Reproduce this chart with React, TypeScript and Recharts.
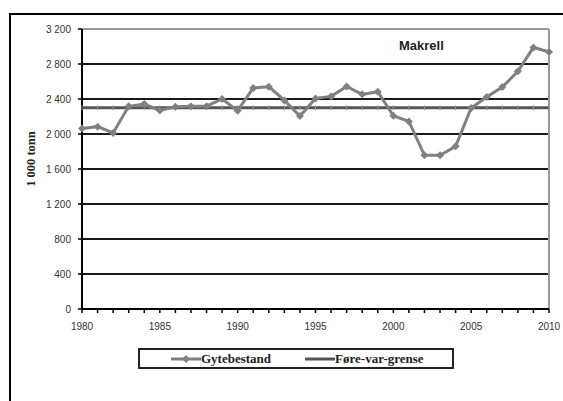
import { LineChart, Line, XAxis, YAxis, CartesianGrid, ReferenceLine, Label } from "recharts";

const years = [
  1980, 1981, 1982, 1983, 1984, 1985, 1986, 1987, 1988, 1989,
  1990, 1991, 1992, 1993, 1994, 1995, 1996, 1997, 1998, 1999,
  2000, 2001, 2002, 2003, 2004, 2005, 2006, 2007, 2008, 2009, 2010,
];
// spawning stock, 1 000 tonnes
const gytebestand = [
  2064, 2084, 2012, 2316, 2343, 2270, 2312, 2316, 2318, 2400,
  2267, 2526, 2541, 2384, 2206, 2407, 2430, 2544, 2453, 2484,
  2209, 2144, 1756, 1756, 1859, 2297, 2423, 2537, 2716, 2990, 2937,
];
const foreVarGrense = 2300;
const yTicks = [0, 400, 800, 1200, 1600, 2000, 2400, 2800, 3200];
const gridValues = [400, 800, 1200, 1600, 2000, 2400, 2800];

const data = years.map((year, i) => ({
  year,
  gytebestand: gytebestand[i],
  grense: foreVarGrense,
}));

const SANS = "'Liberation Sans', Arial, sans-serif";
const SERIF = "'Liberation Serif', 'Times New Roman', serif";

const fmt = (v: number) =>
  v >= 1000 ? `${Math.floor(v / 1000)}\u00a0${String(v % 1000).padStart(3, "0")}` : String(v);

function Diamond(props: any) {
  const { cx, cy } = props;
  if (cx == null || cy == null) return null;
  const r = 4;
  return (
    <path
      d={`M${cx},${cy - r} L${cx + r},${cy} L${cx},${cy + r} L${cx - r},${cy} Z`}
      fill="#808080"
    />
  );
}

function TickMark(props: any) {
  const { cx, cy } = props;
  if (cx == null || cy == null) return null;
  return <line x1={cx} x2={cx} y1={cy - 2.5} y2={cy + 2.5} stroke="#9a9a9a" strokeWidth={1} />;
}

function YearTick(props: any) {
  const { x, y, payload } = props;
  if (payload.value % 5 !== 0) return null;
  return (
    <text x={x} y={y + 15} textAnchor="middle" fontSize={10} fontFamily={SANS} fill="#333">
      {payload.value}
    </text>
  );
}

export default function App() {
  return (
    <div
      style={{
        position: "absolute",
        left: 0,
        top: 0,
        width: 563,
        height: 401,
        background: "#fff",
        overflow: "hidden",
      }}
    >
      <div
        style={{
          position: "absolute",
          left: 9,
          top: 13,
          width: 600,
          height: 500,
          borderTop: "2px solid #000",
          borderLeft: "2px solid #000",
        }}
      />
      <div style={{ position: "absolute", left: 0, top: 0 }}>
        <LineChart
          width={563}
          height={401}
          data={data}
          margin={{ top: 29, right: 14, bottom: 0, left: 0 }}
        >
          <CartesianGrid vertical={false} horizontal={false} />
          {gridValues.map((v) => (
            <ReferenceLine key={v} y={v} stroke="#1a1a1a" strokeWidth={2} />
          ))}
          <ReferenceLine y={3200} stroke="#9a9a9a" strokeWidth={2} />
          <ReferenceLine x={2010} stroke="#9a9a9a" strokeWidth={2} />
          <XAxis
            type="number"
            dataKey="year"
            domain={[1980, 2010]}
            ticks={years}
            interval={0}
            height={92}
            tickSize={4}
            axisLine={{ stroke: "#000", strokeWidth: 2 }}
            tickLine={{ stroke: "#000", strokeWidth: 1.5 }}
            tick={<YearTick />}
          />
          <YAxis
            type="number"
            domain={[0, 3200]}
            ticks={yTicks}
            interval={0}
            width={82}
            tickSize={4}
            tickMargin={7}
            tickFormatter={fmt}
            axisLine={{ stroke: "#000", strokeWidth: 2 }}
            tickLine={{ stroke: "#000", strokeWidth: 1.5 }}
            tick={{ fontSize: 10, fontFamily: SANS, fill: "#333" }}
          >
            <Label
              content={() => (
                <text
                  x={35}
                  y={159}
                  transform="rotate(-90 35 159)"
                  textAnchor="middle"
                  fontSize={12.5}
                  fontWeight="bold"
                  fontFamily={SERIF}
                  fill="#222"
                >
                  1 000 tonn
                </text>
              )}
            />
          </YAxis>
          <Line
            type="linear"
            dataKey="grense"
            stroke="#555"
            strokeWidth={3}
            dot={<TickMark />}
            activeDot={false}
            isAnimationActive={false}
          />
          <Line
            type="linear"
            dataKey="gytebestand"
            stroke="#808080"
            strokeWidth={3}
            dot={<Diamond />}
            activeDot={false}
            isAnimationActive={false}
          />
        </LineChart>
      </div>
      <div
        style={{
          position: "absolute",
          left: 399,
          top: 38,
          fontFamily: SANS,
          fontWeight: "bold",
          fontSize: 13,
          color: "#222",
        }}
      >
        Makrell
      </div>
      <div
        style={{
          position: "absolute",
          left: 138,
          top: 348,
          width: 312,
          height: 17,
          border: "2px solid #222",
          display: "flex",
          alignItems: "center",
          fontFamily: SERIF,
          fontWeight: "bold",
          fontSize: 13,
          color: "#222",
        }}
      >
        <svg width={30} height={10} style={{ marginLeft: 31 }}>
          <line x1={0} x2={30} y1={5} y2={5} stroke="#808080" strokeWidth={3} />
          <path d="M15,1 L19,5 L15,9 L11,5 Z" fill="#808080" />
        </svg>
        <span>Gytebestand</span>
        <svg width={30} height={10} style={{ marginLeft: 34 }}>
          <line x1={0} x2={30} y1={5} y2={5} stroke="#555" strokeWidth={3} />
        </svg>
        <span>Føre-var-grense</span>
      </div>
    </div>
  );
}
